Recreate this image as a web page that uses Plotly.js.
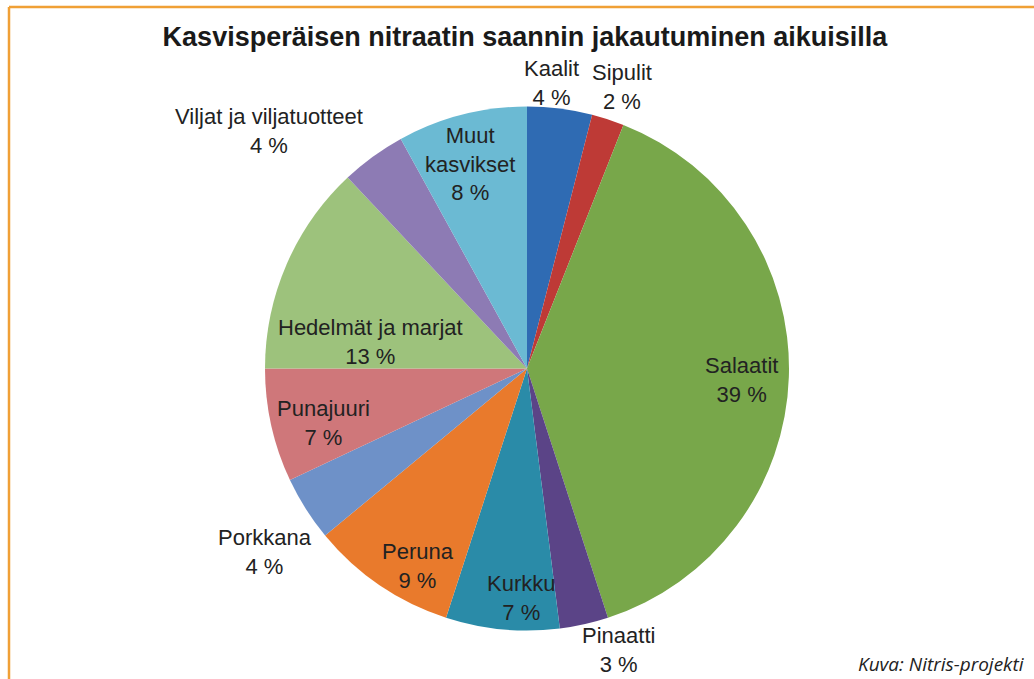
<!DOCTYPE html>
<html>
<head>
<meta charset="utf-8">
<script src="https://cdn.plot.ly/plotly-3.0.1.min.js"></script>
<style>html,body{margin:0;padding:0;background:#fff;}#chart{width:1034px;height:679px;}</style>
</head>
<body>
<div id="chart"></div>
<script>
const labels = ["Kaalit", "Sipulit", "Salaatit", "Pinaatti", "Kurkku", "Peruna", "Porkkana", "Punajuuri", "Hedelmät ja marjat", "Viljat ja viljatuotteet", "Muut kasvikset"];
const displayLabels = ["Kaalit", "Sipulit", "Salaatit", "Pinaatti", "Kurkku", "Peruna", "Porkkana", "Punajuuri", "Hedelmät ja marjat", "Viljat ja viljatuotteet", "Muut<br>kasvikset"];
const values = [4, 2, 39, 3, 7, 9, 4, 7, 13, 4, 8];
const colors = ["#2F6BB3", "#BE3A36", "#78A74A", "#5B4487", "#2A8BA8", "#E97A2C", "#6E91C8", "#CF777A", "#9DC27C", "#8D7BB4", "#6BBAD3"];

// label placement (style): radius as fraction of pie radius, and angle nudge in degrees
const labelRadius = [1.094, 1.134, 0.82, 1.13, 0.876, 0.86, 1.22, 0.806, 0.604, 1.34, 0.81];
const labelNudge = [-2.2, 0.65, 1.2, -5.5, -3.9, -5.2, -2.6, -2.4, -13.8, -11.4, -1.1];

const W = 1034, H = 679;
const cx = 527, cy = 368.5, R = 262;
const font = "Liberation Sans, Arial, sans-serif";

const trace = {
  type: "pie",
  labels: labels,
  values: values,
  textinfo: "none",
  sort: false,
  direction: "clockwise",
  rotation: 0,
  marker: {colors: colors, line: {width: 0}},
  domain: {x: [(cx - R) / W, (cx + R) / W], y: [(H - cy - R) / H, (H - cy + R) / H]},
  hoverinfo: "label+percent",
  showlegend: false
};

const total = values.reduce((a, b) => a + b, 0);
let cum = 0;
const labelAnnotations = values.map((v, i) => {
  const mid = (cum + v / 2) / total * 360 + labelNudge[i];
  cum += v;
  const th = mid * Math.PI / 180;
  const r = R * labelRadius[i];
  const px = cx + r * Math.sin(th);
  const py = cy - r * Math.cos(th);
  return {
    text: displayLabels[i] + "<br>" + v + " %",
    xref: "paper", yref: "paper",
    x: px / W, y: 1 - py / H,
    xanchor: "center", yanchor: "middle", align: "center",
    showarrow: false,
    font: {family: font, size: 22, color: "#222222"}
  };
});

const layout = {
  width: W, height: H,
  margin: {l: 0, r: 0, t: 0, b: 0},
  paper_bgcolor: "#ffffff",
  showlegend: false,
  title: {
    text: "<b>Kasvisperäisen nitraatin saannin jakautuminen aikuisilla</b>",
    font: {family: font, size: 27, color: "#1a1a1a"},
    x: 525 / W, xanchor: "center",
    y: 1 - 37 / H, yanchor: "middle"
  },
  shapes: [
    {type: "line", xref: "paper", yref: "paper", x0: 9 / W, x1: 1.01, y0: 1 - 7 / H, y1: 1 - 7 / H, line: {color: "#F0A036", width: 2.5}},
    {type: "line", xref: "paper", yref: "paper", x0: 9 / W, x1: 9 / W, y0: -0.01, y1: 1 - 7 / H, line: {color: "#F0A036", width: 2.5}}
  ],
  annotations: labelAnnotations.concat([
    {text: "<i>Kuva: Nitris-projekti</i>", xref: "paper", yref: "paper", x: 856 / W, y: 1 - 664 / H, xanchor: "left", yanchor: "middle", showarrow: false,
     font: {family: "Open Sans, sans-serif", size: 19, color: "#222222"}}
  ])
};

Plotly.newPlot("chart", [trace], layout, {displayModeBar: false, staticPlot: true});
</script>
</body>
</html>
